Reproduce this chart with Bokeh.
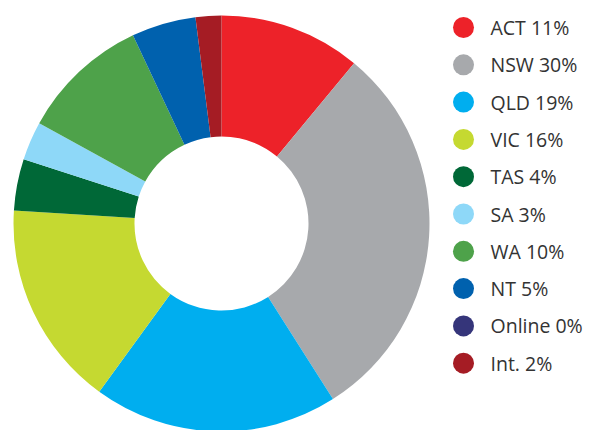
import math
from bokeh.plotting import figure
from bokeh.models import Range1d, ColumnDataSource
from bokeh.core.properties import value
from bokeh.embed import file_html
from bokeh.resources import INLINE

categories = ["ACT", "NSW", "QLD", "VIC", "TAS", "SA", "WA", "NT", "Online", "Int."]
shares = [11, 30, 19, 16, 4, 3, 10, 5, 0, 2]
colors = ["#ED2229", "#A7A9AC", "#00AEEF", "#C5D931", "#006837",
          "#8ED8F8", "#4EA24A", "#0061AE", "#35357A", "#A51C24"]

W, H = 598, 430
cx, cy = 221, H - 223
r_out, r_in = 208, 87

total = float(sum(shares))
starts, ends, wcolors = [], [], []
cum = 0.0
for s, c in zip(shares, colors):
    a0 = math.pi / 2 - 2 * math.pi * cum / total
    cum += s
    a1 = math.pi / 2 - 2 * math.pi * cum / total
    if s > 0:
        starts.append(a0)
        ends.append(a1)
        wcolors.append(c)

src = ColumnDataSource(dict(start=starts, end=ends, color=wcolors,
                            x=[cx] * len(starts), y=[cy] * len(starts)))

p = figure(width=W, height=H, output_backend="svg", toolbar_location=None,
           x_range=Range1d(0, W), y_range=Range1d(0, H),
           min_border=0, outline_line_color=None)
p.axis.visible = False
p.grid.visible = False
p.background_fill_color = "white"
p.border_fill_color = "white"

p.annular_wedge(x="x", y="y", inner_radius=r_in, outer_radius=r_out,
                start_angle="start", end_angle="end", direction="clock",
                color="color", line_color=None, source=src)

labels = [f"{c} {v}%" for c, v in zip(categories, shares)]
ly = [H - (27 + 37.3 * i) for i in range(len(categories))]
leg = ColumnDataSource(dict(x=[463] * len(labels), tx=[490] * len(labels),
                            y=ly, label=labels, color=colors))
p.scatter(x="x", y="y", size=21, color="color", line_color=None, source=leg)
p.text(x="tx", y="y", text="label", source=leg, text_font=value("Open Sans"),
       text_font_size="19.5px", text_baseline="middle", text_color="#333333")

open("out.html", "w").write(file_html(p, INLINE))
